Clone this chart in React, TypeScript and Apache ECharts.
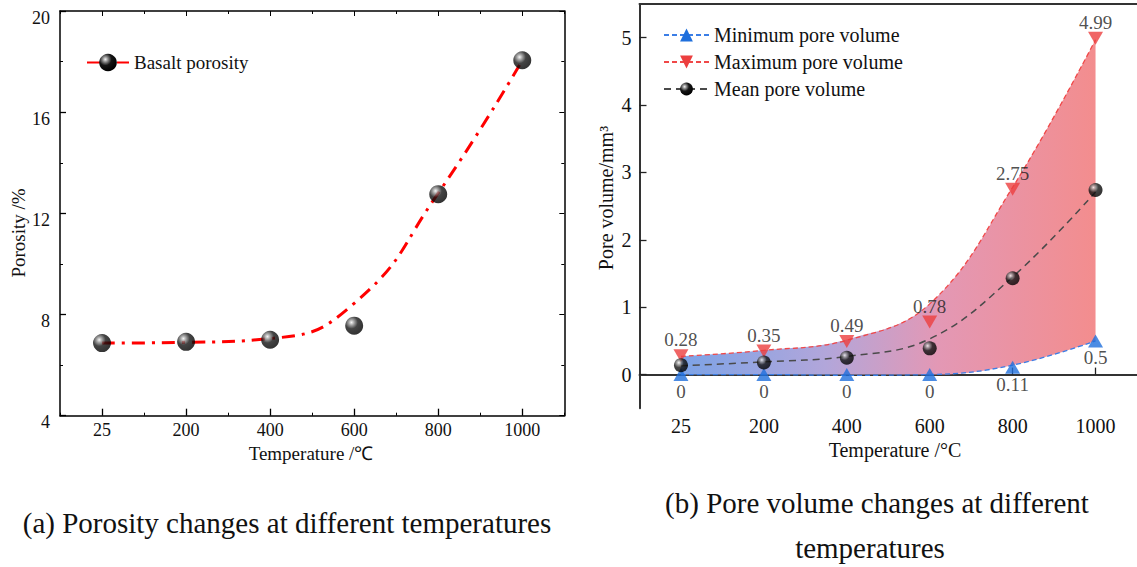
import React, { useEffect, useRef } from "react";
import * as echarts from "echarts";

const categories = ["25", "200", "400", "600", "800", "1000"];
// (a) porosity, %
const porosity = [6.87, 6.92, 7.0, 7.56, 12.76, 18.05];
const porosityFit = [6.87, 6.9, 7.05, 8.44, 12.8, 18.05];
// (b) pore volume, mm3
const minVolume = [0, 0, 0, 0, 0.11, 0.5];
const maxVolume = [0.28, 0.35, 0.49, 0.78, 2.75, 4.99];
const meanVolume = [0.14, 0.18, 0.25, 0.39, 1.43, 2.74];
const minFit = [0, 0, -0.01, 0, 0.14, 0.5];
const maxFit = [0.27, 0.36, 0.51, 1.05, 2.78, 4.97];
const meanFit = [0.13, 0.19, 0.27, 0.53, 1.45, 2.71];
const volumeTicks = [0, 1, 2, 3, 4, 5];

const SERIF = "Liberation Serif";
const sphere = {
  type: "radial",
  x: 0.35,
  y: 0.32,
  r: 0.7,
  colorStops: [
    { offset: 0, color: "#f4f4f4" },
    { offset: 0.22, color: "#8a8a8a" },
    { offset: 0.5, color: "#151515" },
    { offset: 1, color: "#000" },
  ],
};
const DOWN_TRI = "path://M0,0L10,0L5,8.7Z";
const BLUE = "#1f6fdc";
const RED = "#ec3f3f";
const SM = 0.4;

export default function App() {
  const ref = useRef<HTMLDivElement>(null);
  useEffect(() => {
    const chart = echarts.init(ref.current!, null, { renderer: "svg" });
    const axisLine = { show: true, lineStyle: { color: "#000", width: 1.5 } };
    const axisLine2 = { show: true, lineStyle: { color: "#333", width: 2 } };
    const catBase = (grid: number, position: string) => ({
      type: "category",
      data: categories,
      gridIndex: grid,
      position,
      boundaryGap: true,
    });
    const option: any = {
      animation: false,
      backgroundColor: "#fff",
      grid: [
        { left: 60, top: 11, width: 504.3, height: 404.7 },
        { left: 639.5, top: 4, width: 501.6, height: 404.3 },
      ],
      xAxis: [
        {
          ...catBase(0, "bottom"),
          axisLine,
          axisTick: { show: true, inside: true, alignWithLabel: true, length: 7, lineStyle: { color: "#000", width: 1.3 } },
          axisLabel: { fontFamily: SERIF, fontSize: 18, color: "#111", margin: 5 },
          splitLine: { show: false },
        },
        {
          ...catBase(0, "bottom"),
          axisLine: { show: false },
          axisTick: { show: true, inside: true, alignWithLabel: false, length: 3, lineStyle: { color: "#000", width: 1 } },
          axisLabel: { show: false },
          splitLine: { show: false },
        },
        {
          ...catBase(0, "top"),
          axisLine,
          axisTick: { show: true, inside: true, alignWithLabel: true, length: 5, lineStyle: { color: "#000", width: 1 } },
          axisLabel: { show: false },
          splitLine: { show: false },
        },
        {
          ...catBase(0, "top"),
          axisLine: { show: false },
          axisTick: { show: true, inside: true, alignWithLabel: false, length: 3, lineStyle: { color: "#000", width: 1 } },
          axisLabel: { show: false },
          splitLine: { show: false },
        },
        {
          ...catBase(1, "bottom"),
          axisLine: axisLine2,
          axisTick: { show: true, inside: true, alignWithLabel: true, length: 7, lineStyle: { color: "#222", width: 1.3 } },
          axisLabel: { fontFamily: SERIF, fontSize: 20, color: "#111", margin: 8 },
          splitLine: { show: false },
        },
        {
          ...catBase(1, "top"),
          axisLine: axisLine2,
          axisTick: { show: false },
          axisLabel: { show: false },
          splitLine: { show: false },
        },
      ],
      yAxis: [
        {
          type: "value",
          gridIndex: 0,
          position: "left",
          min: 4,
          max: 20,
          interval: 4,
          axisLine,
          axisTick: { show: true, inside: true, length: 6, lineStyle: { color: "#000", width: 1.3 } },
          minorTick: { show: true, splitNumber: 2, length: 3, lineStyle: { color: "#000", width: 1 } },
          axisLabel: { fontFamily: SERIF, fontSize: 18, color: "#111", margin: 10, verticalAlign: "top", lineHeight: 13 },
          splitLine: { show: false },
          minorSplitLine: { show: false },
        },
        {
          type: "value",
          gridIndex: 0,
          position: "right",
          min: 4,
          max: 20,
          interval: 4,
          axisLine,
          axisTick: { show: true, inside: true, length: 5, lineStyle: { color: "#000", width: 1 } },
          minorTick: { show: true, splitNumber: 2, length: 3, lineStyle: { color: "#000", width: 1 } },
          axisLabel: { show: false },
          splitLine: { show: false },
        },
        {
          type: "value",
          gridIndex: 1,
          position: "left",
          min: -0.5,
          max: 5.5,
          axisLine: axisLine2,
          axisTick: { show: true, inside: true, length: 7, customValues: volumeTicks, lineStyle: { color: "#222", width: 1.3 } },
          axisLabel: { fontFamily: SERIF, fontSize: 20, color: "#111", margin: 8, customValues: volumeTicks },
          splitLine: { show: false },
        },
      ],
      legend: [
        {
          data: ["Basalt porosity"],
          left: 86,
          top: 53,
          padding: 0,
          itemWidth: 42,
          itemHeight: 22,
          itemGap: 5,
          textStyle: { fontFamily: SERIF, fontSize: 19, color: "#111" },
        },
        {
          data: ["Minimum pore volume", "Maximum pore volume", "Mean pore volume"],
          orient: "vertical",
          left: 663,
          top: 25,
          padding: 0,
          itemWidth: 45,
          itemHeight: 16,
          itemGap: 7,
          textStyle: { fontFamily: SERIF, fontSize: 20, color: "#111", lineHeight: 20 },
        },
      ],
      series: [
        {
          name: "Basalt porosity",
          type: "line",
          xAxisIndex: 0,
          yAxisIndex: 0,
          data: porosityFit,
          smooth: 0.5,
          symbol: "circle",
          symbolSize: 18,
          showSymbol: false,
          lineStyle: { color: "#ff0000", width: 3, type: [13, 7, 3, 7] },
          itemStyle: { color: sphere },
          z: 2,
        },
        {
          name: "porosity points",
          type: "scatter",
          xAxisIndex: 0,
          yAxisIndex: 0,
          data: porosity,
          symbol: "circle",
          symbolSize: 18,
          itemStyle: { color: sphere },
          z: 3,
        },
        {
          name: "band base",
          type: "line",
          xAxisIndex: 4,
          yAxisIndex: 2,
          stack: "band",
          data: minFit,
          smooth: SM,
          symbol: "none",
          lineStyle: { opacity: 0 },
          silent: true,
          z: 1,
        },
        {
          name: "band",
          type: "line",
          xAxisIndex: 4,
          yAxisIndex: 2,
          stack: "band",
          data: maxFit.map((v, i) => v - minFit[i]),
          smooth: SM,
          symbol: "none",
          lineStyle: { opacity: 0 },
          areaStyle: {
            opacity: 1,
            color: {
              type: "linear",
              x: 0,
              y: 0,
              x2: 1,
              y2: 0,
              colorStops: [
                { offset: 0, color: "#7ca3e7" },
                { offset: 0.35, color: "#b2a6da" },
                { offset: 0.62, color: "#e398b5" },
                { offset: 1, color: "#f38d8e" },
              ],
            },
          },
          silent: true,
          z: 1,
        },
        {
          name: "Minimum pore volume",
          type: "line",
          xAxisIndex: 4,
          yAxisIndex: 2,
          data: minFit,
          smooth: SM,
          symbol: "triangle",
          symbolSize: [15, 13],
          showSymbol: false,
          lineStyle: { color: "#3b7ee6", width: 1.3, type: [5, 3] },
          itemStyle: { color: BLUE },
          z: 2,
        },
        {
          name: "Maximum pore volume",
          type: "line",
          xAxisIndex: 4,
          yAxisIndex: 2,
          data: maxFit,
          smooth: SM,
          symbol: DOWN_TRI,
          symbolSize: [15, 13],
          showSymbol: false,
          lineStyle: { color: "#f04848", width: 1.3, type: [5, 3] },
          itemStyle: { color: RED },
          z: 2,
        },
        {
          name: "Mean pore volume",
          type: "line",
          xAxisIndex: 4,
          yAxisIndex: 2,
          data: meanFit,
          smooth: SM,
          symbol: "circle",
          symbolSize: 14,
          showSymbol: false,
          lineStyle: { color: "#4a4a4a", width: 1.5, type: [7, 5] },
          itemStyle: { color: sphere },
          z: 2,
        },
        {
          name: "min points",
          type: "scatter",
          xAxisIndex: 4,
          yAxisIndex: 2,
          data: minVolume,
          symbol: "triangle",
          symbolSize: [15, 13],
          itemStyle: { color: BLUE },
          label: { show: true, position: "bottom", distance: 1, fontFamily: SERIF, fontSize: 19, color: "#222" },
          z: 3,
        },
        {
          name: "max points",
          type: "scatter",
          xAxisIndex: 4,
          yAxisIndex: 2,
          data: maxVolume,
          symbol: DOWN_TRI,
          symbolSize: [15, 13],
          itemStyle: { color: RED },
          label: { show: true, position: "top", distance: 0, fontFamily: SERIF, fontSize: 19, color: "#222" },
          z: 3,
        },
        {
          name: "mean points",
          type: "scatter",
          xAxisIndex: 4,
          yAxisIndex: 2,
          data: meanVolume,
          symbol: "circle",
          symbolSize: 14,
          itemStyle: { color: sphere },
          z: 4,
        },
      ],
      graphic: [
        {
          type: "text",
          x: 18.5,
          y: 233,
          rotation: Math.PI / 2,
          style: { text: "Porosity /%", align: "center", verticalAlign: "middle", fontFamily: SERIF, fontSize: 19, fill: "#111" },
        },
        {
          type: "text",
          x: 311,
          y: 453,
          style: { text: "Temperature /℃", align: "center", verticalAlign: "middle", fontFamily: SERIF, fontSize: 19, fill: "#111" },
        },
        {
          type: "text",
          x: 606,
          y: 198,
          rotation: Math.PI / 2,
          style: { text: "Pore volume/mm³", align: "center", verticalAlign: "middle", fontFamily: SERIF, fontSize: 20, fill: "#111" },
        },
        {
          type: "text",
          x: 895,
          y: 450,
          style: { text: "Temperature /°C", align: "center", verticalAlign: "middle", fontFamily: SERIF, fontSize: 20, fill: "#111" },
        },
        {
          type: "text",
          x: 287,
          y: 523,
          style: { text: "(a) Porosity changes at different temperatures", align: "center", verticalAlign: "middle", fontFamily: SERIF, fontSize: 29, fill: "#111" },
        },
        {
          type: "text",
          x: 877,
          y: 503,
          style: { text: "(b) Pore volume changes at different", align: "center", verticalAlign: "middle", fontFamily: SERIF, fontSize: 29, fill: "#111" },
        },
        {
          type: "text",
          x: 870,
          y: 548,
          style: { text: "temperatures", align: "center", verticalAlign: "middle", fontFamily: SERIF, fontSize: 29, fill: "#111" },
        },
      ],
    };
    chart.setOption(option);
    return () => chart.dispose();
  }, []);
  return (
    <div
      ref={ref}
      style={{ position: "fixed", left: 0, top: 0, width: 1137, height: 567, background: "#fff" }}
    />
  );
}
